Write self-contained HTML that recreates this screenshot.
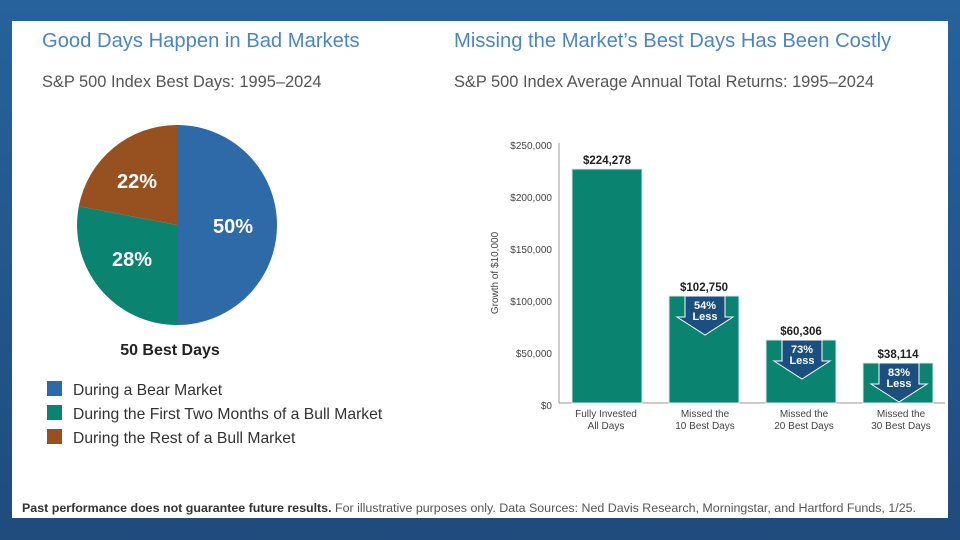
<!DOCTYPE html>
<html><head><style>
html,body{margin:0;padding:0}
body{width:960px;height:540px;overflow:hidden;background:linear-gradient(#27629c,#1f4b7d);font-family:"Liberation Sans",sans-serif;position:relative}
.panel{position:absolute;left:12px;top:21px;width:936px;height:497px;background:#fff}
.t{position:absolute;white-space:nowrap}
</style></head><body>
<div class="panel"></div>
<div class="t" style="left:42px;top:30px;font-size:20.2px;color:#4a86c4">Good Days Happen in Bad Markets</div>
<div class="t" style="left:454px;top:30px;font-size:20.2px;color:#4a86c4">Missing the Market’s Best Days Has Been Costly</div>
<div class="t" style="left:42px;top:73px;font-size:16.4px;color:#555">S&amp;P 500 Index Best Days: 1995–2024</div>
<div class="t" style="left:454px;top:73px;font-size:16.4px;color:#555">S&amp;P 500 Index Average Annual Total Returns: 1995–2024</div>
<svg width="960" height="540" style="position:absolute;left:0;top:0" font-family="Liberation Sans, sans-serif">
<path d="M177,225 L177,125 A100,100 0 0 1 177,325 Z" fill="#2e69a8"/>
<path d="M177,225 L177,325 A100,100 0 0 1 78.8,206.3 Z" fill="#0a8370"/>
<path d="M177,225 L78.8,206.3 A100,100 0 0 1 177,125 Z" fill="#97501f"/>
<g fill="#fff" font-weight="bold" font-size="20" text-anchor="middle">
<text x="233" y="233">50%</text><text x="132" y="266">28%</text><text x="137" y="188">22%</text></g>
<text x="170" y="355" font-size="16" font-weight="bold" text-anchor="middle" fill="#222">50 Best Days</text>
<rect x="47" y="381" width="15" height="15" fill="#2e69a8"/>
<rect x="47" y="405" width="15" height="15" fill="#0a8370"/>
<rect x="47" y="429" width="15" height="15" fill="#97501f"/>
<g font-size="15.7" fill="#333"><text x="73" y="395">During a Bear Market</text><text x="73" y="419">During the First Two Months of a Bull Market</text><text x="73" y="443">During the Rest of a Bull Market</text></g>
<g font-size="10" fill="#444" text-anchor="end">
<text x="552" y="149">$250,000</text><text x="552" y="201">$200,000</text><text x="552" y="253">$150,000</text><text x="552" y="305">$100,000</text><text x="552" y="357">$50,000</text><text x="552" y="409">$0</text></g>
<text transform="translate(498,273) rotate(-90)" font-size="10" fill="#444" text-anchor="middle">Growth of $10,000</text>
<line x1="559" y1="143" x2="559" y2="403" stroke="#999"/>
<line x1="559" y1="403" x2="945" y2="403" stroke="#999"/>
<g fill="#0a8370" stroke="#d8e8e4" stroke-width="1">
<rect x="572" y="169" width="70" height="234"/><rect x="669" y="296" width="70" height="107"/><rect x="766" y="340" width="70" height="63"/><rect x="863" y="363" width="70" height="40"/></g>
<g fill="#1b4f80" stroke="#fff" stroke-width="1">
<path d="M685,296 H725 V317 H733 L705,335 L677,317 H685 Z"/>
<path d="M782,340 H822 V361 H830 L802,379 L774,361 H782 Z"/>
<path d="M879,363 H919 V384 H927 L899,402 L871,384 H879 Z"/></g>
<g fill="#fff" font-size="11" font-weight="bold" text-anchor="middle">
<text x="705" y="309">54%</text><text x="705" y="320">Less</text>
<text x="802" y="353">73%</text><text x="802" y="364">Less</text>
<text x="899" y="376">83%</text><text x="899" y="387">Less</text></g>
<g fill="#222" font-size="11.5" font-weight="bold" text-anchor="middle">
<text x="607" y="164">$224,278</text><text x="704" y="291">$102,750</text><text x="801" y="335">$60,306</text><text x="898" y="358">$38,114</text></g>
<g fill="#444" font-size="10" text-anchor="middle">
<text x="606" y="417">Fully Invested</text><text x="606" y="429">All Days</text>
<text x="705" y="417">Missed the</text><text x="705" y="429">10 Best Days</text>
<text x="804" y="417">Missed the</text><text x="804" y="429">20 Best Days</text>
<text x="901" y="417">Missed the</text><text x="901" y="429">30 Best Days</text></g>
<text x="22" y="512" font-size="12.4" fill="#555" textLength="894" lengthAdjust="spacingAndGlyphs"><tspan font-weight="bold" fill="#333">Past performance does not guarantee future results.</tspan> For illustrative purposes only. Data Sources: Ned Davis Research, Morningstar, and Hartford Funds, 1/25.</text>
</svg>
</body></html>
